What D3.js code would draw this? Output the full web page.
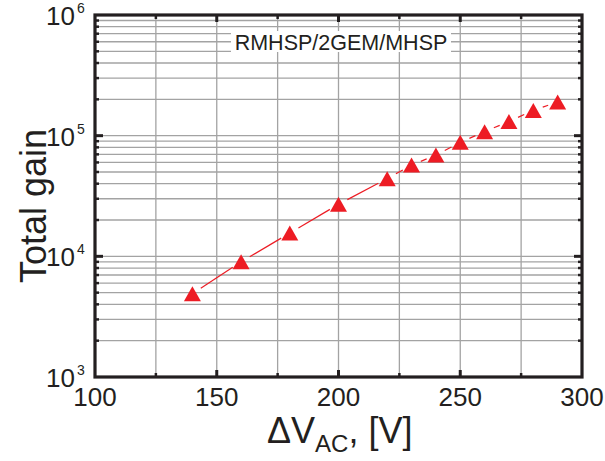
<!DOCTYPE html>
<html><head><meta charset="utf-8">
<script src="https://cdn.jsdelivr.net/npm/d3@7/dist/d3.min.js"></script>
<style>
body{margin:0;background:#fff;}
svg{display:block;font-family:"Liberation Sans",Arial,sans-serif;}
</style></head>
<body>
<svg id="c" width="605" height="461"></svg>
<script>
const voltage = [140,160,180,200,220,230,240,250,260,270,280,290];
const gain = [4900,9000,15600,27000,44000,57000,69000,88000,108000,131000,162000,190000];
const xMajor = [100,150,200,250,300];
const xMinor = [125,175,225,275];
const yDecades = [3,4,5,6];
const legendLabel = "RMHSP/2GEM/MHSP";
const xTitle = ["ΔV","AC",", [V]"];
const yTitle = "Total gain";

const W=605,H=461, m={l:95,t:15,r:23,b:84};
const svg=d3.select("#c");
const x=d3.scaleLinear().domain([100,300]).range([m.l,W-m.r]);
const y=d3.scaleLog().domain([1e3,1e6]).range([H-m.b,m.t]);

const yMinor=[];
for(let d=3; d<6; d++) for(let k=2;k<=9;k++) yMinor.push(k*Math.pow(10,d));
const xGrid = d3.range(125,300,25);
const yGrid = yMinor.concat([1e4,1e5]);

const g=svg.append("g");
// grid
g.selectAll(".gx").data(xGrid).join("line")
 .attr("x1",d=>x(d)).attr("x2",d=>x(d)).attr("y1",m.t).attr("y2",H-m.b)
 .attr("stroke","#a3a3a3").attr("stroke-width",1.3);
g.selectAll(".gy").data(yGrid).join("line")
 .attr("y1",d=>y(d)).attr("y2",d=>y(d)).attr("x1",m.l).attr("x2",W-m.r)
 .attr("stroke","#a3a3a3").attr("stroke-width",1.3);

// legend box
const lg=g.append("g");
lg.append("rect").attr("x",231).attr("y",31).attr("width",220).attr("height",21).attr("fill","#fff");
lg.append("text").attr("x",341).attr("y",49.5).attr("text-anchor","middle")
 .attr("font-size",21.5).attr("fill","#231f20").text(legendLabel);

// ticks (inward)
const tk=g.append("g").attr("stroke","#231f20");
const xl=x.range(), yl=y.range();
xMajor.slice(1,-1).forEach(v=>{
  tk.append("line").attr("x1",x(v)).attr("x2",x(v)).attr("y1",yl[0]).attr("y2",yl[0]-7).attr("stroke-width",3);
  tk.append("line").attr("x1",x(v)).attr("x2",x(v)).attr("y1",yl[1]).attr("y2",yl[1]+7).attr("stroke-width",3);
});
xMinor.forEach(v=>{
  tk.append("line").attr("x1",x(v)).attr("x2",x(v)).attr("y1",yl[0]).attr("y2",yl[0]-4).attr("stroke-width",2.5);
  tk.append("line").attr("x1",x(v)).attr("x2",x(v)).attr("y1",yl[1]).attr("y2",yl[1]+4).attr("stroke-width",2.5);
});
[1e4,1e5].forEach(v=>{
  tk.append("line").attr("y1",y(v)).attr("y2",y(v)).attr("x1",xl[0]).attr("x2",xl[0]+8).attr("stroke-width",3);
  tk.append("line").attr("y1",y(v)).attr("y2",y(v)).attr("x1",xl[1]).attr("x2",xl[1]-8).attr("stroke-width",3);
});
yMinor.forEach(v=>{
  tk.append("line").attr("y1",y(v)).attr("y2",y(v)).attr("x1",xl[0]).attr("x2",xl[0]+4).attr("stroke-width",2.5);
  tk.append("line").attr("y1",y(v)).attr("y2",y(v)).attr("x1",xl[1]).attr("x2",xl[1]-4).attr("stroke-width",2.5);
});

// frame
g.append("rect").attr("x",m.l).attr("y",m.t).attr("width",W-m.l-m.r).attr("height",H-m.t-m.b)
 .attr("fill","none").attr("stroke","#231f20").attr("stroke-width",3.2);

// line segments with gaps
const pts=voltage.map((v,i)=>[x(v),y(gain[i])]);
const segs=[];
for(let i=0;i<pts.length-1;i++){
  const [x1,y1]=pts[i],[x2,y2]=pts[i+1];
  const L=Math.hypot(x2-x1,y2-y1), gap=10;
  if(L>2*gap){
    const ux=(x2-x1)/L, uy=(y2-y1)/L;
    segs.push([x1+ux*gap,y1+uy*gap,x2-ux*gap,y2-uy*gap]);
  }
}
g.selectAll(".seg").data(segs).join("line")
 .attr("x1",d=>d[0]).attr("y1",d=>d[1]).attr("x2",d=>d[2]).attr("y2",d=>d[3])
 .attr("stroke","#ed1c24").attr("stroke-width",1.2);

// markers
g.selectAll(".mk").data(voltage).join("path")
 .attr("d","M0,-7.5L8.5,7.5L-8.5,7.5Z")
 .attr("transform",(d,i)=>`translate(${x(d)},${y(gain[i])})`)
 .attr("fill","#ed1c24");

// x tick labels
g.selectAll(".xl").data(xMajor).join("text")
 .attr("x",d=>x(d)).attr("y",406).attr("text-anchor","middle")
 .attr("font-size",26).attr("fill","#231f20").text(d=>d);

// y tick labels
const yt=g.selectAll(".yl").data(yDecades).join("g")
 .attr("transform",d=>`translate(0,${y(Math.pow(10,d))})`);
yt.append("text").attr("x",75).attr("y",10).attr("text-anchor","end")
 .attr("font-size",26).attr("fill","#231f20").text("10");
yt.append("text").attr("x",77).attr("y",-2).attr("font-size",14)
 .attr("fill","#231f20").text(d=>d);

// axis titles
const xt=g.append("text").attr("x",267).attr("y",443).attr("font-size",36).attr("fill","#231f20");
xt.append("tspan").text(xTitle[0]);
xt.append("tspan").attr("font-size",24).attr("dy",9).text(xTitle[1]);
xt.append("tspan").attr("dy",-9).text(xTitle[2]);

g.append("text").attr("transform","translate(46,206) rotate(-90)").attr("text-anchor","middle")
 .attr("font-size",36).attr("fill","#231f20").text(yTitle);
</script>
</body></html>
